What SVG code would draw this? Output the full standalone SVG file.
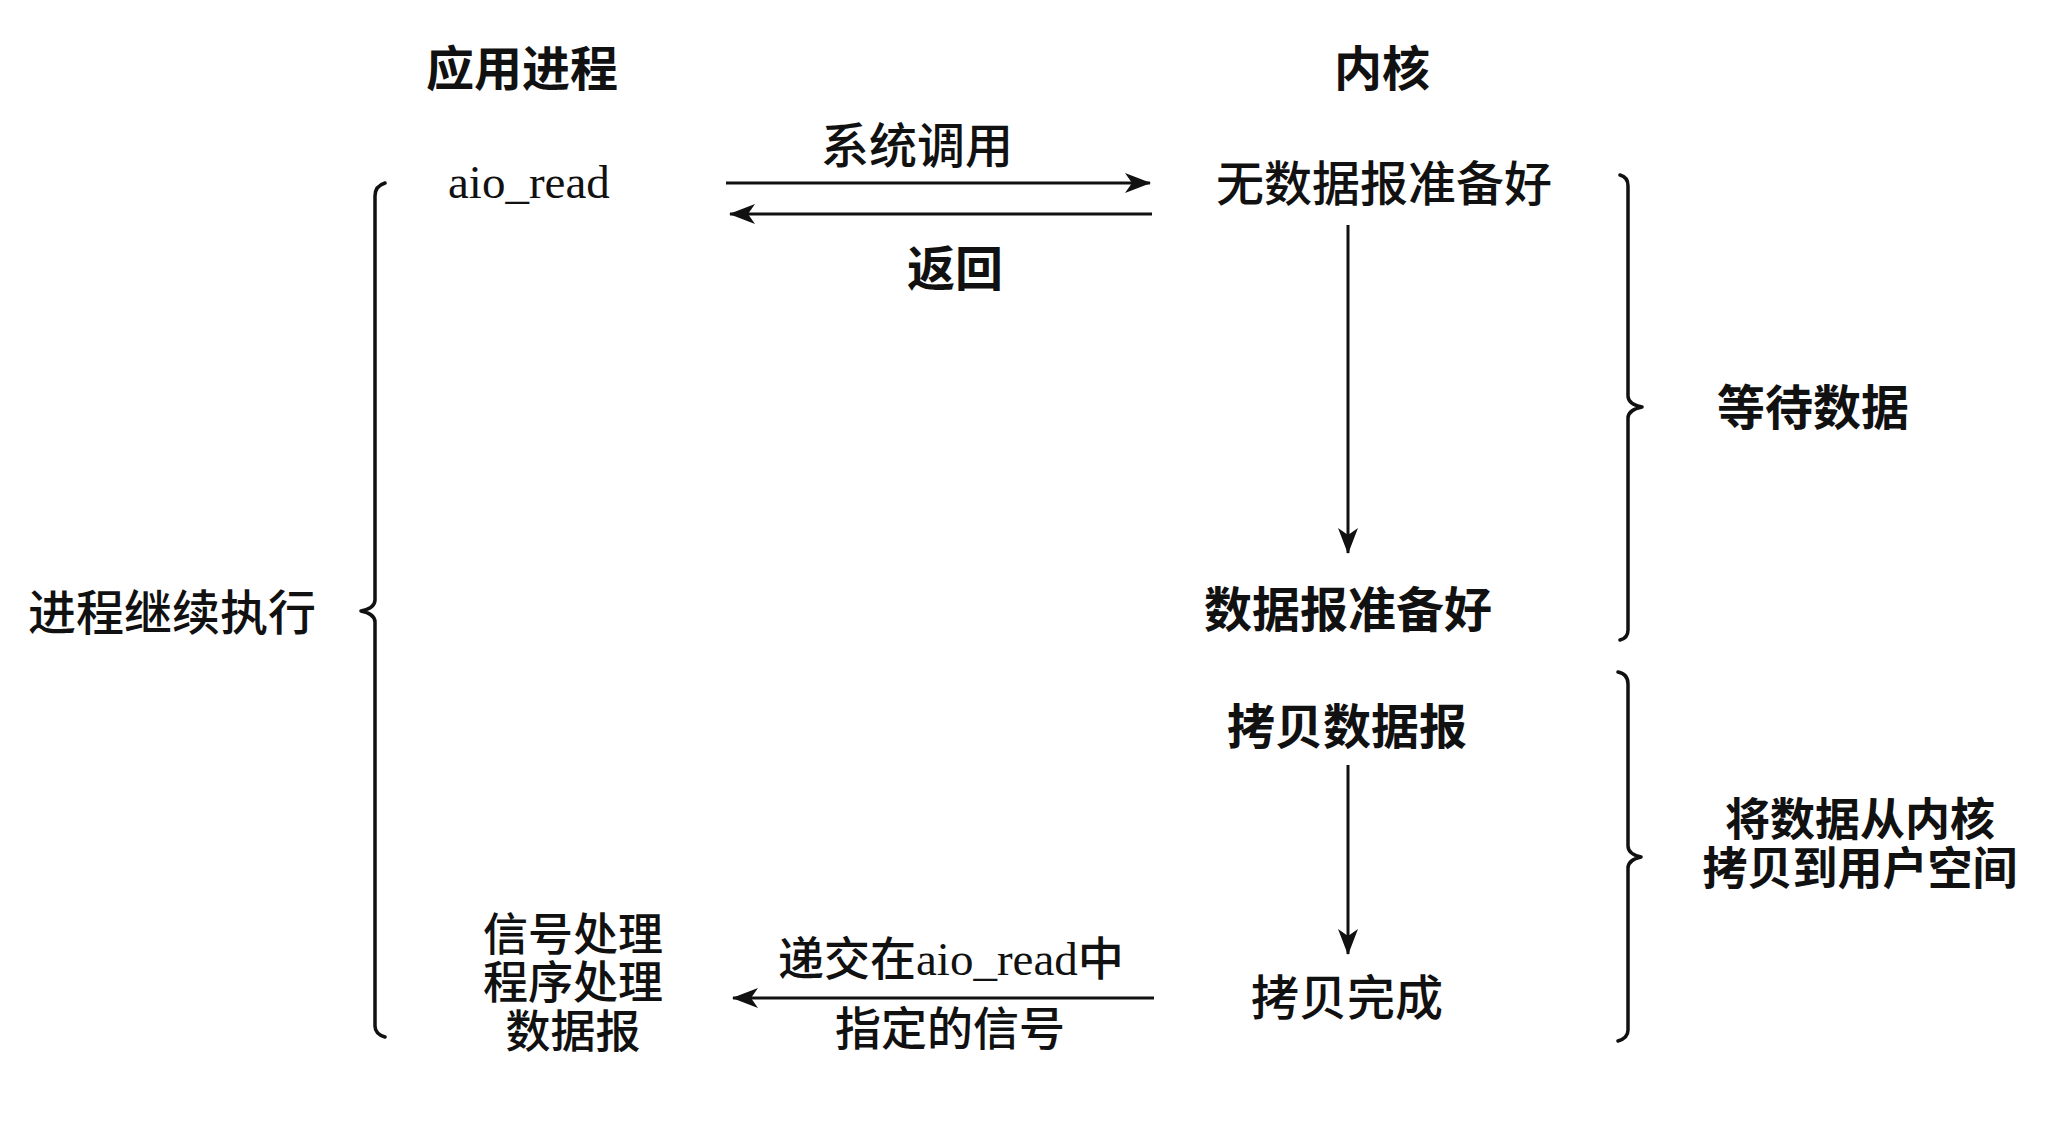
<svg xmlns="http://www.w3.org/2000/svg" width="2052" height="1128" viewBox="0 0 2052 1128">
<style>
text{font-family:"Noto Sans CJK SC","Noto Sans",sans-serif;font-size:48px;fill:#111;text-anchor:middle}
.b{font-weight:700}
.m{font-weight:500}
.s{font-size:45px}
.lat{font-family:"Liberation Serif","Noto Sans CJK SC",serif;font-size:47px}
.ln{stroke:#111;stroke-width:3;fill:none}
.br{stroke:#111;stroke-width:3.5;fill:none;stroke-linejoin:round;stroke-linecap:round}
</style>
<defs>
<marker id="ah" viewBox="0 0 26 20" refX="25" refY="10" markerWidth="26" markerHeight="20" markerUnits="userSpaceOnUse" orient="auto">
<path d="M0,0 L26,10 L0,20 L7,10 z" fill="#111"/>
</marker>
</defs>
<rect width="2052" height="1128" fill="#fff"/>
<g id="header-app"><text x="522" y="86" class="b">应用进程</text></g>
<g id="header-kernel"><text x="1382" y="86" class="b">内核</text></g>
<g id="aio-read"><text x="448" y="198" class="lat" style="text-anchor:start">aio_read</text></g>
<g id="no-datagram"><text x="1384" y="201" class="m">无数据报准备好</text></g>
<g id="datagram-ready"><text x="1348" y="627" class="b">数据报准备好</text></g>
<g id="copy-datagram"><text x="1347" y="744" class="b">拷贝数据报</text></g>
<g id="copy-done"><text x="1347" y="1015" class="m">拷贝完成</text></g>
<g id="signal-handler">
<text x="573" y="951" class="m s">信号处理</text>
<text x="573" y="999" class="m s">程序处理</text>
<text x="573" y="1048" class="m s">数据报</text>
</g>
<g id="process-continues"><text x="172" y="630" class="m">进程继续执行</text></g>
<g id="wait-data"><text x="1813" y="425" class="b">等待数据</text></g>
<g id="copy-to-user">
<text x="1860" y="836" class="b s">将数据从内核</text>
<text x="1860" y="885" class="b s">拷贝到用户空间</text>
</g>
<g id="connectors">
<line class="ln" x1="726" y1="183" x2="1150" y2="183" marker-end="url(#ah)"/>
<line class="ln" x1="1152" y1="214" x2="730" y2="214" marker-end="url(#ah)"/>
<line class="ln" x1="1348" y1="225" x2="1348" y2="553" marker-end="url(#ah)"/>
<line class="ln" x1="1348" y1="765" x2="1348" y2="954" marker-end="url(#ah)"/>
<line class="ln" x1="1154" y1="998" x2="733" y2="998" marker-end="url(#ah)"/>
<text x="917" y="163" class="m">系统调用</text>
<text x="955" y="286" class="b">返回</text>
<text x="778" y="975" class="m" style="text-anchor:start;font-size:46px">递交在<tspan class="lat">aio_read</tspan>中</text>
<text x="950" y="1045" class="m" style="font-size:46px">指定的信号</text>
</g>
<g id="brace-left"><path class="br" d="M385,183 Q375,186 375,196 L375,600 Q375,608 361,611 Q375,614 375,622 L375,1026 Q375,1034 385,1037"/></g>
<g id="brace-wait"><path class="br" d="M1620,175 Q1628,177 1628,186 L1628,396 Q1628,404 1642,407 Q1628,410 1628,418 L1628,630 Q1628,638 1620,640"/></g>
<g id="brace-copy"><path class="br" d="M1618,672 Q1628,674 1628,684 L1628,846 Q1628,854 1641,857 Q1628,860 1628,868 L1628,1030 Q1628,1038 1618,1041"/></g>
</svg>
